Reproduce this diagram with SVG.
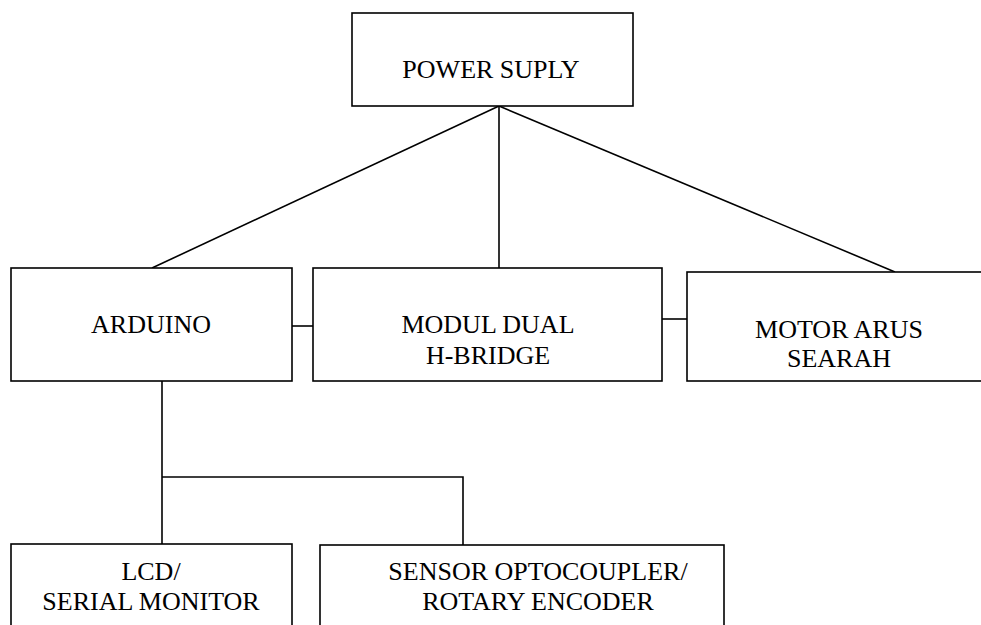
<svg xmlns="http://www.w3.org/2000/svg" width="981" height="625" viewBox="0 0 981 625">
<style>
.box{fill:#fff;stroke:#000;stroke-width:1.6}
.ln{fill:none;stroke:#000;stroke-width:1.6}
.t{font-family:'Liberation Serif','Times New Roman',serif;font-size:26px;fill:#000;text-anchor:middle}
</style>
<rect width="981" height="625" fill="#fff"/>
<g id="connectors">
<line class="ln" x1="499" y1="106" x2="152" y2="268"/>
<line class="ln" x1="499" y1="106" x2="499" y2="268"/>
<line class="ln" x1="499" y1="106" x2="895" y2="272"/>
<line class="ln" x1="292" y1="326" x2="313" y2="326"/>
<line class="ln" x1="662" y1="319" x2="687" y2="319"/>
<polyline class="ln" points="162,381 162,544"/>
<polyline class="ln" points="162,477 463,477 463,545"/>
</g>
<g id="power">
<rect class="box" x="352" y="13" width="281" height="93"/>
<text class="t" font-family="Liberation Serif, serif" x="491" y="78">POWER SUPLY</text>
</g>
<g id="arduino">
<rect class="box" x="11" y="268" width="281" height="113"/>
<text class="t" font-family="Liberation Serif, serif" x="151" y="333">ARDUINO</text>
</g>
<g id="hbridge">
<rect class="box" x="313" y="268" width="349" height="113"/>
<text class="t" font-family="Liberation Serif, serif" x="488" y="333">MODUL DUAL</text>
<text class="t" font-family="Liberation Serif, serif" x="488" y="364">H-BRIDGE</text>
</g>
<g id="motor">
<rect class="box" x="687" y="272" width="310" height="109"/>
<text class="t" font-family="Liberation Serif, serif" x="839" y="338">MOTOR ARUS</text>
<text class="t" font-family="Liberation Serif, serif" x="839" y="367">SEARAH</text>
</g>
<g id="lcd">
<rect class="box" x="11" y="544" width="281" height="100"/>
<text class="t" font-family="Liberation Serif, serif" x="151" y="580">LCD/</text>
<text class="t" font-family="Liberation Serif, serif" x="151" y="610">SERIAL MONITOR</text>
</g>
<g id="sensor">
<rect class="box" x="320" y="545" width="404" height="100"/>
<text class="t" font-family="Liberation Serif, serif" x="538" y="580">SENSOR OPTOCOUPLER/</text>
<text class="t" font-family="Liberation Serif, serif" x="538" y="610">ROTARY ENCODER</text>
</g>
</svg>
